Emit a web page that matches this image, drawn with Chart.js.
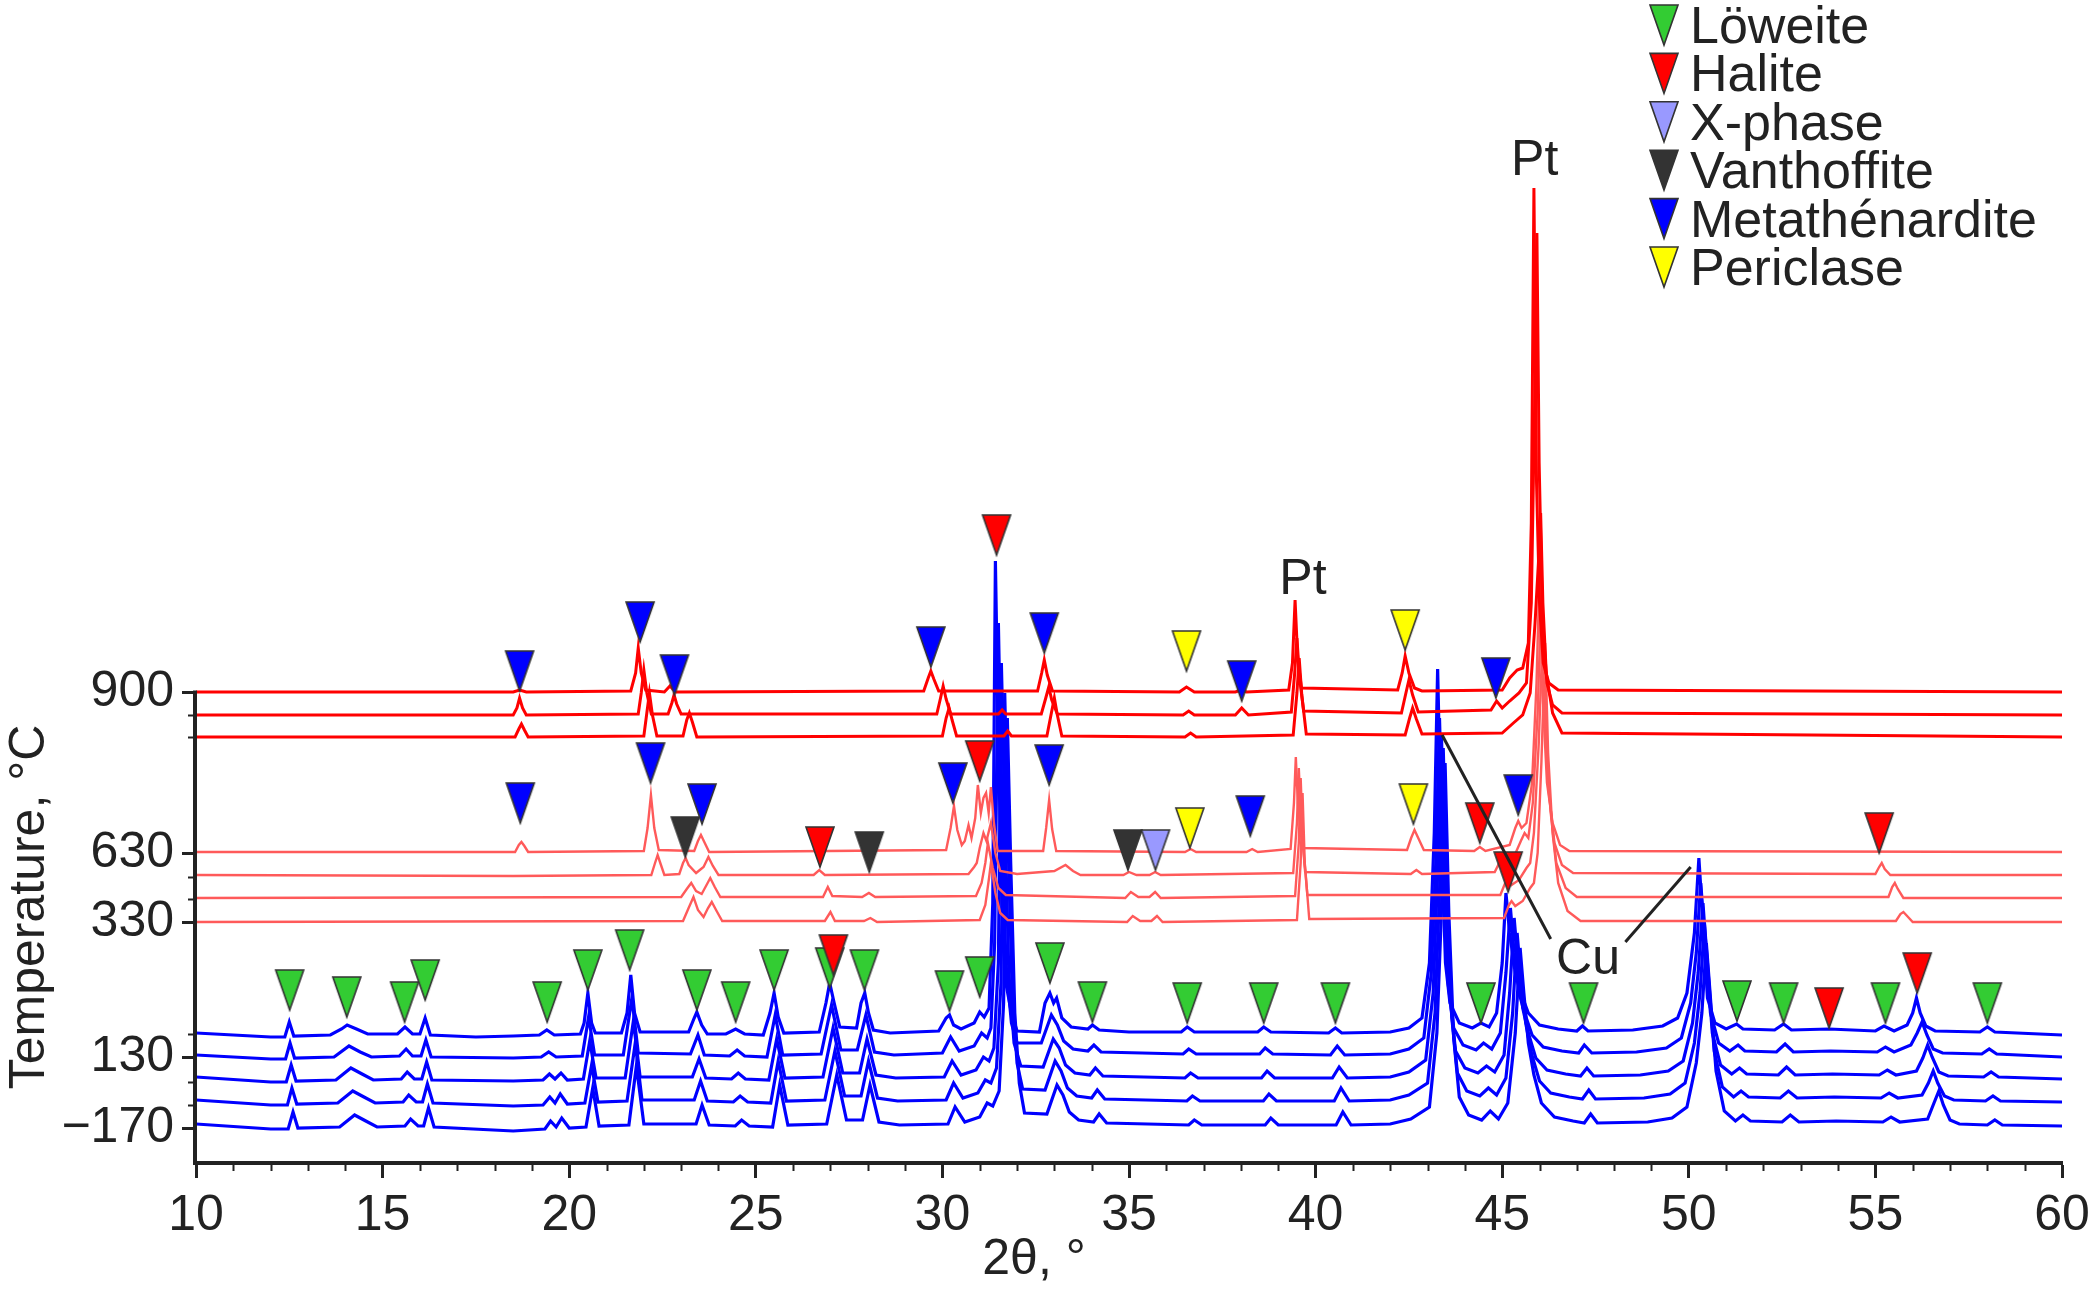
<!DOCTYPE html>
<html>
<head>
<meta charset="utf-8">
<script src="https://cdn.jsdelivr.net/npm/chart.js@4.4.1/dist/chart.umd.min.js"></script>
<style>
  html, body { margin: 0; padding: 0; background: #fff; }
  #wrap { width: 2100px; height: 1305px; }
</style>
</head>
<body>
<div id="wrap"><canvas id="xrd" width="2100" height="1305"></canvas></div>
<script>
// y values are stacked intensities (offset counts); temperature ticks sit on scan baselines
const tempTicks = [471, 310, 241, 106, 35]
const tempLabels = ['900', '630', '330', '130', '−170']
const minorTempTicks = [448, 426, 286, 264, 129, 81, 58]

const phaseNames = ['Löweite', 'Halite', 'X-phase', 'Vanthoffite', 'Metathénardite', 'Periclase']
const phaseColors = ['#33cc33', '#ff0000', '#9999ff', '#333333', '#0000ff', '#ffff00']

// marker tips [2theta, intensity]
const markLoweite = [[12.51,153],[14.04,146],[15.59,141],[16.14,163],[19.41,141],[20.5,173],[21.62,193],[23.42,153],[24.46,141],[25.49,173],[26.98,175],[27.91,173],[30.19,152],[31.0,166],[32.88,180],[34.02,141],[36.56,140],[38.61,140],[40.53,140],[44.43,140],[47.18,140],[51.29,142],[52.54,140],[55.27,140],[58.0,140]]
const markHalite = [[31.45,608],[31.0,382],[26.72,296],[44.4,320],[45.16,271],[55.1,310],[27.08,188],[53.76,135],[56.12,170]]
const markXphase = [[35.71,293]]
const markVanthoffite = [[23.11,306],[28.04,291],[34.97,293]]
const markMetathenardite = [[18.67,472],[21.9,521],[22.82,468],[29.69,496],[32.73,510],[38.02,462],[44.83,465],[18.69,340],[22.18,380],[23.56,339],[30.28,360],[32.86,378],[38.25,327],[45.43,348]]
const markPericlase = [[36.54,492],[42.4,513],[36.63,315],[42.62,339]]

// hot scans (900 C group), flat lists of 2theta, intensity
const hot1 = [10,471, 18.5,471, 18.67,473, 18.85,471, 21.65,472, 21.78,490, 21.85,515, 21.93,490, 22.05,473, 22.55,471, 22.7,477, 22.85,471, 29.5,472, 29.62,485, 29.69,492, 29.77,484, 29.9,472, 32.55,472, 32.66,490, 32.73,503, 32.81,488, 32.95,472, 36.35,471, 36.54,476, 36.75,471, 37.85,471, 38.0,473, 38.15,471, 39.28,473, 39.38,500, 39.45,563, 39.52,505, 39.62,475, 42.2,473, 42.32,490, 42.4,507, 42.5,490, 42.65,475, 42.85,472, 45.0,473, 45.2,485, 45.4,493, 45.55,495, 45.7,520, 45.78,640, 45.85,975, 45.92,680, 46.0,560, 46.1,500, 46.25,480, 46.5,473, 60,471]
const hot2 = [10,448, 18.5,448, 18.6,455, 18.67,465, 18.75,455, 18.85,448, 21.85,449, 21.93,470, 22.0,493, 22.08,470, 22.2,449, 22.65,449, 22.75,460, 22.81,468, 22.88,459, 23.0,449, 29.85,449, 29.95,465, 30.02,477, 30.1,464, 30.22,449, 31.5,449, 31.6,453, 31.7,449, 32.65,449, 32.77,465, 32.85,476, 32.93,463, 33.08,449, 36.45,448, 36.6,452, 36.75,448, 37.85,448, 38.02,455, 38.2,448, 39.35,451, 39.44,490, 39.5,525, 39.57,485, 39.68,452, 42.3,450, 42.42,470, 42.5,483, 42.6,468, 42.75,451, 44.7,453, 44.85,462, 45.0,455, 45.2,462, 45.45,470, 45.65,480, 45.78,560, 45.87,760, 45.93,930, 45.99,700, 46.08,540, 46.2,480, 46.35,458, 46.6,450, 60,448]
const hot3 = [10,426, 18.55,426, 18.65,434, 18.72,439, 18.8,433, 18.9,426, 22.0,427, 22.08,450, 22.15,470, 22.23,448, 22.35,427, 23.05,427, 23.15,443, 23.22,450, 23.3,441, 23.42,426, 30.0,427, 30.1,445, 30.18,455, 30.26,443, 30.38,427, 31.65,427, 31.75,432, 31.85,427, 32.8,427, 32.92,450, 33.0,465, 33.08,448, 33.2,427, 36.5,426, 36.65,430, 36.8,426, 39.4,428, 39.5,470, 39.56,505, 39.63,468, 39.75,429, 42.4,428, 42.52,445, 42.6,455, 42.7,444, 42.85,429, 45.0,430, 45.3,440, 45.55,448, 45.75,470, 45.88,540, 45.97,600, 46.03,650, 46.09,560, 46.18,490, 46.35,450, 46.6,430, 60,426]

// warm scans (630 - 330 C group)
const warm1 = [10,311, 18.55,311, 18.65,318, 18.72,321, 18.8,317, 18.9,311, 22.0,312, 22.1,335, 22.19,368, 22.28,335, 22.4,313, 23.35,312, 23.45,322, 23.53,328, 23.62,321, 23.75,311, 30.1,313, 30.22,335, 30.31,357, 30.4,333, 30.52,318, 30.6,322, 30.7,338, 30.78,325, 30.88,345, 30.95,378, 31.03,350, 31.1,365, 31.17,370, 31.24,350, 31.3,376, 31.38,340, 31.48,312, 32.7,312, 32.78,335, 32.86,363, 32.94,334, 33.05,312, 36.5,311, 36.65,314, 36.8,311, 38.15,311, 38.3,314, 38.45,311, 39.33,314, 39.42,360, 39.47,406, 39.53,355, 39.65,315, 42.45,313, 42.56,325, 42.65,333, 42.75,325, 42.9,313, 44.25,312, 44.4,316, 44.55,312, 45.2,318, 45.35,335, 45.43,342, 45.52,335, 45.65,340, 45.8,380, 45.92,480, 46.0,590, 46.08,470, 46.2,380, 46.35,340, 46.55,318, 46.8,312, 60,311]
const warm2 = [10,288, 18.5,287, 22.2,288, 22.3,300, 22.37,308, 22.45,299, 22.55,288, 22.95,289, 23.05,300, 23.12,305, 23.2,298, 23.4,290, 23.6,296, 23.73,306, 23.85,297, 24.0,288, 26.55,288, 26.7,293, 26.85,288, 30.7,289, 30.85,296, 30.92,300, 31.0,315, 31.1,330, 31.18,322, 31.3,340, 31.42,310, 31.55,292, 32.0,289, 33.0,292, 33.3,298, 33.5,292, 33.7,288, 34.85,288, 35.0,291, 35.2,288, 35.55,288, 35.7,291, 35.85,288, 39.4,290, 39.5,340, 39.55,395, 39.61,340, 39.72,291, 42.55,289, 42.7,293, 42.85,289, 44.8,291, 44.92,300, 45.0,306, 45.1,299, 45.3,305, 45.5,322, 45.6,330, 45.7,325, 45.82,360, 45.95,450, 46.05,570, 46.13,450, 46.25,370, 46.4,320, 46.6,298, 46.9,290, 55.0,289, 55.1,296, 55.17,300, 55.25,294, 55.4,288, 60,288]
const warm3 = [10,265, 23.0,266, 23.15,274, 23.27,280, 23.4,272, 23.55,269, 23.68,278, 23.78,285, 23.9,276, 24.05,266, 26.8,266, 26.93,276, 27.05,267, 27.85,266, 28.03,270, 28.2,266, 30.9,267, 31.05,280, 31.15,300, 31.22,320, 31.35,295, 31.5,275, 31.7,268, 34.9,265, 35.05,271, 35.25,266, 35.55,266, 35.7,271, 35.85,265, 39.45,267, 39.55,320, 39.6,385, 39.66,320, 39.78,268, 44.95,268, 45.08,280, 45.15,285, 45.25,278, 45.45,283, 45.65,295, 45.75,300, 45.85,330, 45.98,420, 46.1,545, 46.18,430, 46.3,350, 46.45,300, 46.7,275, 47.0,266, 55.35,266, 55.45,276, 55.52,280, 55.6,274, 55.75,265, 60,265]
const warm4 = [10,241, 23.05,242, 23.2,255, 23.33,266, 23.45,253, 23.6,246, 23.72,255, 23.82,261, 23.95,252, 24.1,242, 26.85,242, 27.0,251, 27.12,242, 27.9,242, 28.07,245, 28.25,241, 31.0,243, 31.15,258, 31.25,285, 31.3,300, 31.42,270, 31.55,250, 31.75,243, 34.95,241, 35.1,247, 35.3,242, 35.6,242, 35.75,247, 35.9,241, 39.5,243, 39.6,300, 39.65,370, 39.71,300, 39.83,244, 45.05,245, 45.18,258, 45.25,262, 45.35,257, 45.55,262, 45.75,275, 45.85,280, 45.95,310, 46.05,400, 46.15,520, 46.23,410, 46.35,330, 46.5,280, 46.75,252, 47.1,242, 55.55,242, 55.67,249, 55.75,251, 55.85,247, 56.0,241, 60,241]

// cold scans (130 to -170 C group)
const cold1 = [10,130, 11,128, 12.0,126, 12.38,126, 12.5,141, 12.62,127, 13.6,128, 13.9,134, 14.05,138, 14.3,134, 14.6,129, 15.4,129, 15.6,136, 15.8,129, 16.0,129, 16.14,145, 16.28,128, 17.5,126, 18.5,127, 19.2,128, 19.4,133, 19.6,128, 20.3,129, 20.4,140, 20.5,170, 20.6,140, 20.7,130, 21.4,130, 21.55,150, 21.65,188, 21.75,150, 21.9,131, 23.2,131, 23.35,145, 23.42,151, 23.55,138, 23.7,129, 24.2,129, 24.46,134, 24.7,129, 25.2,128, 25.38,150, 25.49,170, 25.6,146, 25.75,130, 26.7,131, 26.88,160, 26.98,180, 27.1,160, 27.25,136, 27.7,135, 27.82,160, 27.92,170, 28.02,150, 28.15,133, 28.6,130, 29.9,132, 30.1,145, 30.19,148, 30.3,138, 30.5,134, 30.85,140, 31.0,151, 31.12,146, 31.25,155, 31.35,260, 31.42,602, 31.5,420, 31.6,250, 31.7,180, 31.85,150, 32.0,132, 32.6,131, 32.75,160, 32.88,170, 32.98,160, 33.06,165, 33.2,145, 33.45,136, 33.9,134, 34.02,138, 34.2,133, 35,131, 36.4,131, 36.56,136, 36.75,131, 38.45,131, 38.61,136, 38.8,131, 40.35,130, 40.53,135, 40.7,130, 42.0,131, 42.5,135, 42.85,145, 43.05,200, 43.18,330, 43.27,494, 43.36,340, 43.48,200, 43.6,160, 43.85,140, 44.2,135, 44.43,140, 44.65,136, 44.85,150, 45.0,200, 45.1,270, 45.2,230, 45.35,190, 45.5,170, 45.7,150, 46.0,138, 46.5,134, 47.0,132, 47.15,137, 47.3,132, 48.5,133, 49.3,137, 49.7,145, 49.95,170, 50.15,230, 50.27,305, 50.38,240, 50.5,165, 50.7,140, 51.0,134, 51.28,139, 51.45,134, 52.3,133, 52.54,139, 52.75,133, 53.76,134, 55.0,132, 55.23,137, 55.5,132, 55.85,138, 56.0,150, 56.1,165, 56.2,150, 56.35,137, 56.6,132, 57.8,131, 58.0,136, 58.2,131, 60,128]
const cold2 = [10,108, 12.0,104, 12.4,104, 12.52,120, 12.64,105, 13.7,106, 14.1,117, 14.4,111, 14.7,106, 15.45,107, 15.63,114, 15.8,107, 16.03,107, 16.16,123, 16.3,106, 18.5,105, 19.25,106, 19.45,111, 19.65,106, 20.35,107, 20.52,146, 20.68,108, 21.45,108, 21.68,165, 21.85,110, 23.25,109, 23.45,128, 23.62,108, 24.3,107, 24.5,113, 24.7,107, 25.3,106, 25.52,148, 25.72,108, 26.75,109, 27.03,158, 27.28,113, 27.72,113, 27.95,148, 28.18,111, 28.7,108, 30.0,110, 30.22,126, 30.45,112, 30.85,117, 31.05,130, 31.2,125, 31.3,135, 31.4,220, 31.5,540, 31.58,380, 31.7,200, 31.85,140, 32.0,120, 32.65,120, 32.92,148, 33.08,138, 33.25,122, 33.5,114, 33.9,112, 34.06,118, 34.25,111, 36.45,109, 36.6,114, 36.8,109, 38.5,109, 38.65,115, 38.85,109, 40.4,108, 40.58,117, 40.78,108, 42.0,109, 42.5,114, 42.9,125, 43.1,190, 43.22,300, 43.32,445, 43.42,300, 43.55,180, 43.7,135, 43.95,118, 44.3,113, 44.5,120, 44.72,114, 44.95,130, 45.1,190, 45.22,255, 45.32,210, 45.45,170, 45.6,150, 45.8,128, 46.1,116, 46.6,112, 47.05,110, 47.2,118, 47.4,110, 48.6,111, 49.4,115, 49.8,125, 50.05,160, 50.2,210, 50.32,280, 50.45,215, 50.58,150, 50.8,120, 51.1,112, 51.32,118, 51.5,112, 52.35,111, 52.58,119, 52.8,111, 53.8,112, 55.05,111, 55.27,116, 55.5,111, 55.95,118, 56.12,130, 56.25,141, 56.38,128, 56.55,114, 56.8,110, 57.85,109, 58.05,114, 58.25,109, 60,106]
const cold3 = [10,86, 12.0,81, 12.42,81, 12.55,98, 12.68,82, 13.75,83, 14.15,95, 14.45,89, 14.75,83, 15.5,84, 15.66,91, 15.85,84, 16.05,84, 16.18,101, 16.32,83, 18.5,82, 19.3,83, 19.47,89, 19.62,84, 19.78,90, 19.95,83, 20.38,84, 20.55,122, 20.72,85, 21.5,85, 21.72,142, 21.9,86, 23.3,86, 23.48,104, 23.66,85, 24.35,84, 24.53,90, 24.72,84, 25.35,83, 25.56,124, 25.78,85, 26.8,86, 27.07,135, 27.33,90, 27.78,90, 27.98,124, 28.22,88, 28.75,85, 30.05,86, 30.26,102, 30.5,88, 30.9,93, 31.1,106, 31.25,102, 31.38,115, 31.5,200, 31.58,500, 31.67,350, 31.78,190, 31.92,120, 32.1,97, 32.7,96, 32.97,124, 33.13,115, 33.3,98, 33.55,90, 33.95,88, 34.1,95, 34.3,87, 36.5,85, 36.65,90, 36.85,85, 38.55,85, 38.7,92, 38.9,85, 40.45,85, 40.63,96, 40.85,85, 42.0,86, 42.5,91, 42.95,103, 43.15,170, 43.27,290, 43.37,430, 43.47,285, 43.6,165, 43.75,112, 44.0,95, 44.35,90, 44.58,97, 44.8,91, 45.05,108, 45.2,170, 45.32,245, 45.42,200, 45.55,155, 45.7,130, 45.9,105, 46.2,93, 46.7,89, 47.1,87, 47.27,95, 47.45,87, 48.7,88, 49.45,92, 49.85,102, 50.1,140, 50.25,190, 50.38,260, 50.5,195, 50.63,130, 50.85,98, 51.15,89, 51.36,95, 51.55,89, 52.4,88, 52.62,96, 52.85,88, 53.85,89, 55.1,88, 55.32,93, 55.55,88, 56.1,92, 56.27,105, 56.4,118, 56.52,106, 56.7,91, 56.95,87, 57.9,86, 58.1,91, 58.3,86, 60,84]
const cold4 = [10,63, 12.0,58, 12.45,58, 12.57,75, 12.7,59, 13.8,60, 14.2,72, 14.5,66, 14.8,60, 15.55,61, 15.7,68, 15.9,61, 16.07,61, 16.2,79, 16.35,60, 18.5,57, 19.3,58, 19.48,66, 19.62,60, 19.76,69, 19.95,59, 20.42,60, 20.6,98, 20.77,61, 21.55,62, 21.77,120, 21.95,63, 23.35,63, 23.52,82, 23.7,62, 24.4,61, 24.58,67, 24.78,61, 25.4,60, 25.6,102, 25.82,62, 26.85,63, 27.12,112, 27.38,67, 27.82,67, 28.02,102, 28.26,65, 28.8,62, 30.1,63, 30.3,80, 30.55,65, 30.95,70, 31.15,83, 31.3,80, 31.45,95, 31.57,180, 31.67,470, 31.76,320, 31.87,170, 32.0,100, 32.15,74, 32.75,73, 33.02,102, 33.18,92, 33.35,75, 33.6,67, 34.0,65, 34.15,73, 34.35,64, 36.55,62, 36.7,67, 36.9,62, 38.6,62, 38.75,69, 38.95,62, 40.5,62, 40.68,75, 40.9,62, 42.0,63, 42.5,68, 43.0,80, 43.2,150, 43.32,270, 43.42,415, 43.52,270, 43.65,145, 43.8,90, 44.05,72, 44.4,67, 44.63,75, 44.85,68, 45.1,85, 45.28,150, 45.4,230, 45.5,185, 45.63,140, 45.78,110, 46.0,82, 46.3,70, 46.8,66, 47.15,64, 47.32,73, 47.5,64, 48.8,65, 49.5,69, 49.9,80, 50.15,120, 50.3,170, 50.42,240, 50.55,175, 50.68,112, 50.9,76, 51.2,66, 51.4,72, 51.6,66, 52.45,65, 52.67,72, 52.9,65, 53.9,66, 55.15,65, 55.37,70, 55.6,65, 56.25,68, 56.42,80, 56.55,92, 56.67,80, 56.85,67, 57.1,63, 57.95,62, 58.15,67, 58.35,62, 60,61]
const cold5 = [10,39, 12.0,34, 12.47,34, 12.6,51, 12.73,35, 13.85,36, 14.25,48, 14.55,42, 14.85,36, 15.6,37, 15.75,44, 15.95,37, 16.1,37, 16.23,55, 16.38,36, 18.5,32, 19.35,34, 19.5,42, 19.65,36, 19.8,45, 20.0,35, 20.45,36, 20.63,75, 20.8,37, 21.6,38, 21.8,97, 22.0,39, 23.4,39, 23.56,58, 23.75,38, 24.45,37, 24.62,43, 24.82,37, 25.45,36, 25.64,78, 25.86,38, 26.9,39, 27.17,88, 27.43,43, 27.86,43, 28.06,78, 28.3,41, 28.85,38, 30.15,39, 30.34,56, 30.6,41, 31.0,46, 31.2,60, 31.35,57, 31.52,72, 31.64,160, 31.74,445, 31.83,300, 31.94,150, 32.06,80, 32.2,50, 32.8,49, 33.07,78, 33.23,68, 33.4,51, 33.65,43, 34.05,41, 34.2,49, 34.4,40, 36.6,38, 36.75,43, 36.95,38, 38.65,38, 38.8,45, 39.0,38, 40.55,38, 40.73,51, 40.95,38, 42.0,39, 42.55,44, 43.05,56, 43.25,130, 43.37,250, 43.47,400, 43.57,250, 43.7,125, 43.85,66, 44.1,48, 44.45,43, 44.68,52, 44.9,44, 45.15,60, 45.35,130, 45.48,215, 45.58,170, 45.7,120, 45.85,88, 46.05,60, 46.4,46, 46.9,42, 47.2,40, 47.37,49, 47.55,40, 48.9,41, 49.55,45, 49.95,56, 50.2,100, 50.35,150, 50.47,220, 50.6,155, 50.73,92, 50.95,52, 51.25,42, 51.45,48, 51.65,42, 52.5,41, 52.72,48, 52.95,41, 53.95,42, 55.2,41, 55.42,46, 55.65,41, 56.4,44, 56.57,60, 56.7,72, 56.82,58, 57.0,43, 57.25,39, 58.0,38, 58.2,43, 58.4,38, 60,37]

const hotScans = [hot1, hot2, hot3]
const warmScans = [warm1, warm2, warm3, warm4]
const coldScans = [cold1, cold2, cold3, cold4, cold5]

// reflection labels [text, 2theta, intensity]
const peakLabels = [['Pt', 39.66, 583], ['Pt', 45.87, 1002], ['Cu', 47.3, 203]]
const cuLeaders = [[[43.39, 428], [46.3, 224]], [[48.3, 221], [50.05, 296]]]

const FONT = "'Liberation Sans', Arial, sans-serif"
const INK = '#222'

function pairs(a) {
  const out = []
  for (let i = 0; i < a.length; i += 2) out.push({ x: a[i], y: a[i + 1] })
  return out
}

function triangleImage(color) {
  const c = document.createElement('canvas')
  c.width = 32
  c.height = 86
  const g = c.getContext('2d')
  g.beginPath()
  g.moveTo(2, 3); g.lineTo(30, 3); g.lineTo(16, 43); g.closePath()
  g.fillStyle = color
  g.fill()
  g.lineWidth = 1.6
  g.strokeStyle = '#333'
  g.stroke()
  return c
}

const datasets = []
// halite on top, periclase at the back
const markDrawOrder = [1, 4, 2, 3, 0, 5]
const allMarks = [markLoweite, markHalite, markXphase, markVanthoffite, markMetathenardite, markPericlase]
markDrawOrder.forEach(i => {
  datasets.push({
    label: phaseNames[i],
    data: allMarks[i].map(p => ({ x: p[0], y: p[1] })),
    showLine: false,
    pointStyle: triangleImage(phaseColors[i]),
    pointRadius: 20,
    order: 0
  })
})
hotScans.forEach(s => datasets.push({ data: pairs(s), borderColor: '#ff0000', borderWidth: 3, pointRadius: 0, order: 1 }))
warmScans.forEach(s => datasets.push({ data: pairs(s), borderColor: '#ff5a5a', borderWidth: 2.4, pointRadius: 0, order: 2 }))
coldScans.forEach(s => datasets.push({ data: pairs(s), borderColor: '#0000ff', borderWidth: 3.2, pointRadius: 0, order: 3 }))

const extras = {
  id: 'extras',
  afterDatasetsDraw(chart) {
    const { ctx, scales: { x, y } } = chart
    ctx.save()
    ctx.strokeStyle = INK
    ctx.lineWidth = 3
    cuLeaders.forEach(l => {
      ctx.beginPath()
      ctx.moveTo(x.getPixelForValue(l[0][0]), y.getPixelForValue(l[0][1]))
      ctx.lineTo(x.getPixelForValue(l[1][0]), y.getPixelForValue(l[1][1]))
      ctx.stroke()
    })
    ctx.fillStyle = INK
    ctx.font = '50px ' + FONT
    ctx.textAlign = 'center'
    ctx.textBaseline = 'middle'
    peakLabels.forEach(p => ctx.fillText(p[0], x.getPixelForValue(p[1]), y.getPixelForValue(p[2])))
    ctx.restore()
  },
  afterDraw(chart) {
    const { ctx, scales: { x, y } } = chart
    ctx.save()
    ctx.strokeStyle = INK
    // y axis line only up to the top temperature
    ctx.lineWidth = 4
    ctx.beginPath()
    ctx.moveTo(x.left - 1, y.getPixelForValue(0) + 2)
    ctx.lineTo(x.left - 1, y.getPixelForValue(tempTicks[0]) - 1.5)
    ctx.stroke()
    // minor ticks
    ctx.lineWidth = 2
    ctx.beginPath()
    for (let v = 11; v < 60; v++) {
      if (v % 5 === 0) continue
      const px = Math.round(x.getPixelForValue(v)) + 0.5
      ctx.moveTo(px, y.bottom)
      ctx.lineTo(px, y.bottom + 8)
    }
    minorTempTicks.forEach(v => {
      const py = Math.round(y.getPixelForValue(v)) + 0.5
      ctx.moveTo(x.left - 8, py)
      ctx.lineTo(x.left, py)
    })
    ctx.stroke()
    // axis titles
    ctx.fillStyle = INK
    ctx.font = '50px ' + FONT
    ctx.textAlign = 'center'
    ctx.textBaseline = 'middle'
    ctx.fillText('2θ, °', 1034, 1260)
    ctx.save()
    ctx.translate(30, 907)
    ctx.rotate(-Math.PI / 2)
    ctx.fillText('Temperature, °C', 0, 0)
    ctx.restore()
    // legend
    ctx.font = '52px ' + FONT
    ctx.textAlign = 'left'
    ctx.textBaseline = 'alphabetic'
    phaseNames.forEach((name, i) => {
      const base = 43 + i * 48.4
      ctx.beginPath()
      ctx.moveTo(1650, base - 38)
      ctx.lineTo(1678, base - 38)
      ctx.lineTo(1664, base + 2)
      ctx.closePath()
      ctx.fillStyle = phaseColors[i]
      ctx.fill()
      ctx.lineWidth = 1.6
      ctx.strokeStyle = '#333'
      ctx.stroke()
      ctx.fillStyle = INK
      ctx.fillText(name, 1690, base)
    })
    ctx.restore()
  }
}

new Chart(document.getElementById('xrd'), {
  type: 'line',
  data: { datasets },
  plugins: [extras],
  options: {
    responsive: false,
    animation: false,
    devicePixelRatio: 1,
    layout: { autoPadding: false, padding: { top: 10, right: 38, left: 0, bottom: 0 } },
    elements: { line: { tension: 0 } },
    plugins: { legend: { display: false }, tooltip: { enabled: false } },
    scales: {
      x: {
        type: 'linear', min: 10, max: 60,
        afterFit: s => { s.height = 142; s.paddingLeft = 0; s.paddingRight = 0 },
        ticks: { stepSize: 5, color: INK, font: { family: FONT, size: 50 }, padding: 8, maxRotation: 0, autoSkip: false },
        grid: { drawOnChartArea: false, drawTicks: true, tickLength: 15, tickWidth: 3, tickColor: INK },
        border: { display: true, color: INK, width: 4 }
      },
      y: {
        type: 'linear', min: 0, max: 1153,
        afterFit: s => { s.width = 196; s.paddingTop = 0; s.paddingBottom = 0 },
        afterBuildTicks: s => { s.ticks = tempTicks.map(v => ({ value: v })) },
        ticks: {
          autoSkip: false, color: INK, font: { family: FONT, size: 50 }, padding: 8,
          callback: v => tempLabels[tempTicks.indexOf(v)] ?? ''
        },
        grid: { drawOnChartArea: false, drawTicks: true, tickLength: 14, tickWidth: 3, tickColor: INK },
        border: { display: false }
      }
    }
  }
})
</script>
</body>
</html>
